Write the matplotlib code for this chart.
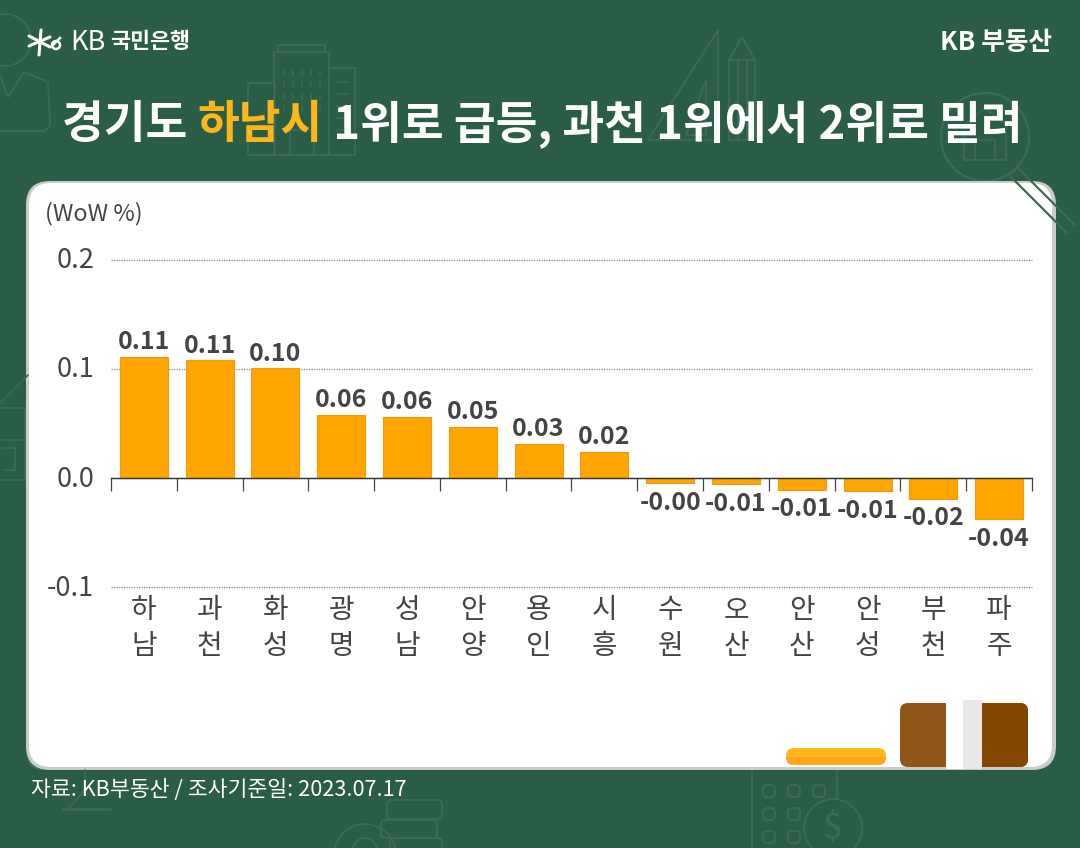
import matplotlib
matplotlib.use("Agg")
import matplotlib.pyplot as plt
from matplotlib.patches import FancyBboxPatch, Rectangle, Circle, Polygon
from matplotlib.transforms import ScaledTranslation

plt.rcParams["font.family"] = ["Noto Sans CJK KR", "DejaVu Sans"]

cities = ["하\n남", "과\n천", "화\n성", "광\n명", "성\n남", "안\n양", "용\n인",
          "시\n흥", "수\n원", "오\n산", "안\n산", "안\n성", "부\n천", "파\n주"]
wow = [0.111, 0.1075, 0.1005, 0.058, 0.056, 0.047, 0.031,
       0.024, -0.005, -0.0058, -0.011, -0.0125, -0.019, -0.038]
wow_labels = ["0.11", "0.11", "0.10", "0.06", "0.06", "0.05", "0.03",
              "0.02", "-0.00", "-0.01", "-0.01", "-0.01", "-0.02", "-0.04"]
yticks = [-0.1, 0.0, 0.1, 0.2]
ytick_labels = ["-0.1", "0.0", "0.1", "0.2"]

BG = "#2A5D46"
DECOR = "#3B6B56"
INK = "#444444"
W, H = 1080, 848

fig = plt.figure(figsize=(W / 100, H / 100), dpi=100, facecolor=BG)

# pixel canvas for background, card and header
bg = fig.add_axes([0, 0, 1, 1], zorder=0)
bg.set_xlim(0, W)
bg.set_ylim(H, 0)
bg.axis("off")


def outline(x, y, w, h, lw=1.3, r=0):
    if r:
        bg.add_patch(FancyBboxPatch((x, y), w, h, boxstyle=f"round,pad=0,rounding_size={r}",
                                    fc="none", ec=DECOR, lw=lw))
    else:
        bg.add_patch(Rectangle((x, y), w, h, fc="none", ec=DECOR, lw=lw))


def ring(x, y, r, lw=1.3):
    bg.add_patch(Circle((x, y), r, fc="none", ec=DECOR, lw=lw))


def poly(points, lw=1.3):
    xs, ys = zip(*points)
    bg.plot(xs, ys, color=DECOR, lw=lw, solid_capstyle="round")


# faint background icons
ring(5, 40, 26)
poly([(0, 75), (8, 97), (24, 72), (48, 82), (50, 125), (45, 131), (0, 131)])
outline(248, 83, 27, 72)
outline(274, 52, 55, 103)
outline(278, 45, 47, 7)
outline(329, 68, 26, 87)
for yy in range(70, 110, 12):
    for xx in range(284, 325, 9):
        poly([(xx, yy), (xx, yy + 5)], lw=1.1)
for yy in range(82, 135, 12):
    poly([(336, yy), (348, yy)], lw=1.1)
outline(290, 130, 24, 25)
bg.add_patch(Polygon([(648, 140), (718, 30), (718, 140)], fc="none", ec=DECOR, lw=1.3))
bg.add_patch(Polygon([(686, 135), (706, 135), (706, 80)], fc="none", ec=DECOR, lw=1.3))
bg.add_patch(Polygon([(729, 60), (742, 37), (755, 60), (755, 140), (729, 140)], fc="none", ec=DECOR, lw=1.3))
poly([(729, 60), (755, 60)])
poly([(738, 60), (738, 140)])
poly([(747, 60), (747, 140)])
ring(985, 137, 44, lw=1.6)
poly([(1018, 168), (1075, 225)], lw=1.6)
poly([(1010, 176), (1067, 233)], lw=1.6)
poly([(964, 125), (985, 108), (1006, 125), (1006, 160), (964, 160), (964, 125)])
poly([(975, 160), (975, 140), (995, 140), (995, 160)])
poly([(0, 403), (28, 375)])
outline(-5, 408, 30, 72)
poly([(0, 440), (25, 440)])
poly([(3, 470), (15, 470), (15, 448), (3, 448)])
outline(752, 755, 85, 120)
for cx, cy in [(769, 791), (794, 791), (819, 791), (769, 814), (794, 814), (769, 837), (794, 837)]:
    outline(cx - 6, cy - 6, 12, 12, r=4)
bg.add_patch(Circle((833, 828), 29, fc=BG, ec=DECOR, lw=1.3))
bg.text(833, 828, "$", color=DECOR, fontsize=25, ha="center", va="center")
outline(387, 800, 55, 19, r=4)
outline(381, 820, 56, 18, r=4)
outline(390, 838, 52, 14, r=4)
ring(365, 855, 31)
ring(365, 850, 12)
ring(40, 757, 12)
poly([(85, 770), (85, 790), (68, 809), (108, 809)])
poly([(62, 809), (110, 809)], lw=1.8)

# card
bg.add_patch(FancyBboxPatch((26, 181), 1030, 589, boxstyle="round,pad=0,rounding_size=24",
                            fc="#C9CCC9", ec="none"))
bg.add_patch(FancyBboxPatch((29, 183), 1023, 584, boxstyle="round,pad=0,rounding_size=22",
                            fc="white", ec="none"))

# book and pencil decoration inside the card
pill = FancyBboxPatch((786, 748), 100, 17, boxstyle="round,pad=0,rounding_size=8",
                      fc="#FFB81C", ec="none")
bg.add_patch(pill)
lower = Rectangle((786, 757), 100, 8, fc="#FFA520", ec="none")
bg.add_patch(lower)
lower.set_clip_path(pill)
bg.add_patch(FancyBboxPatch((900, 703), 128, 64, boxstyle="round,pad=0,rounding_size=8",
                            fc="#8F5618", ec="none"))
bg.add_patch(FancyBboxPatch((964, 703), 64, 64, boxstyle="round,pad=0,rounding_size=8",
                            fc="#824800", ec="none"))
bg.add_patch(Rectangle((946, 700), 18, 69, fc="white", ec="none"))
bg.add_patch(Rectangle((963, 700), 19, 69, fc="#E8E8E8", ec="none"))

# header
title_y = 125
cursor = 62
for part, col in [("경기도 ", "white"), ("하남시", "#FDB71C"),
                  (" 1위로 급등, 과천 1위에서 2위로 밀려", "white")]:
    t = bg.text(cursor, title_y, part, color=col, fontsize=32.7, fontweight="bold",
                ha="left", va="center")
    # trailing/leading spaces are kept in the measured width
    cursor = t.get_window_extent(fig.canvas.get_renderer()).x1

# KB logo mark
for a, b in [((29, 46), (50, 37)), ((29, 36), (50, 47)), ((41, 30), (39, 55))]:
    bg.plot(*zip(a, b), color="white", lw=2.2, solid_capstyle="round")
bg.add_patch(Circle((56, 45), 4, fc="none", ec="white", lw=1.8))
bg.plot([60, 52], [38, 46], color="white", lw=1.8)
bg.text(70, 43, "KB", color="white", fontsize=19.5, ha="left", va="center")
bg.text(110, 42, "국민은행", color="white", fontsize=15.7, fontweight="bold", ha="left", va="center")
bg.text(1052, 43, "KB 부동산", color="white", fontsize=18.5, fontweight="bold", ha="right", va="center")

bg.text(45, 214, "(WoW %)", color=INK, fontsize=16.8, ha="left", va="center")
bg.text(31, 790, "자료: KB부동산 / 조사기준일: 2023.07.17", color="white", fontsize=15.6, ha="left", va="center")

# the chart itself
ax = fig.add_axes([111 / W, 1 - 587 / H, (1032 - 111) / W, (587 - 259.5) / H], zorder=1)
ax.patch.set_alpha(0)
pos = list(range(len(cities)))
ax.bar(pos, wow, width=0.73, color="#FFA500", edgecolor="#F09A10", linewidth=0.8, zorder=3)
ax.set_xlim(-0.5, len(cities) - 0.5)
ax.set_ylim(-0.1, 0.2)
ax.set_yticks(yticks, ytick_labels, fontsize=19.5, color=INK)
ax.tick_params(axis="y", length=0, pad=12)
for lab in ax.get_yticklabels():
    lab.set_transform(lab.get_transform() + ScaledTranslation(0, 1.3 / 72, fig.dpi_scale_trans))
ax.grid(axis="y", color="#888888", linestyle=(0, (1, 1)), linewidth=0.9, zorder=1)
for line in ax.get_ygridlines():
    line.set_clip_on(False)
for s in ["top", "left", "right"]:
    ax.spines[s].set_visible(False)
ax.spines["bottom"].set_position(("data", 0))
ax.spines["bottom"].set_color("#333333")
ax.spines["bottom"].set_linewidth(1.0)
ax.spines["bottom"].set_zorder(4)
ax.set_xticks([p - 0.5 for p in pos] + [len(cities) - 0.5])
ax.set_xticklabels([])
ax.tick_params(axis="x", direction="out", length=9.5, width=0.9, color="#444444")

for p, v, lab in zip(pos, wow, wow_labels):
    off = 10.5 if v > 0 else -14
    ax.annotate(lab, (p, v), xytext=(0, off), textcoords="offset points", ha="center", va="center",
                fontsize=18, fontweight="bold", color=INK, zorder=5)
    # category label sits under the plot in two lines
    ax.annotate(cities[p], (p, -0.1), xytext=(0, -29.5), textcoords="offset points", ha="center",
                va="center", fontsize=20, fontweight="medium", color=INK, linespacing=1.23,
                annotation_clip=False)

fig.savefig("out.png", dpi=100, facecolor=BG)
